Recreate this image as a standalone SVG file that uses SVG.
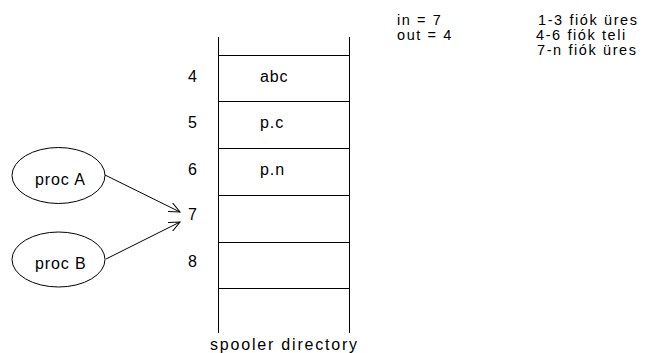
<svg xmlns="http://www.w3.org/2000/svg" width="648" height="353" viewBox="0 0 648 353">
<style>
text{font-family:"Liberation Sans",Arial,sans-serif;font-size:16px;letter-spacing:0.9px;fill:#000}
.note{font-size:14.5px;letter-spacing:1.6px}
.ln{stroke:#000;stroke-width:1;fill:none}
.n{fill:#fff;stroke:#000;stroke-width:1}
</style>
<defs>
<marker id="ah" viewBox="0 0 12 10" refX="11" refY="5" markerWidth="12" markerHeight="10" markerUnits="userSpaceOnUse" orient="auto">
<path d="M0,0 L11,5 L0,10" fill="none" stroke="#000" stroke-width="1"/>
</marker>
</defs>
<rect width="648" height="353" fill="#fff"/>
<g id="directory">
<line class="ln" x1="218.5" y1="37" x2="218.5" y2="333"/>
<line class="ln" x1="349.5" y1="37" x2="349.5" y2="333"/>
<line class="ln" x1="218" y1="55.5" x2="350" y2="55.5"/>
<line class="ln" x1="218" y1="101.5" x2="350" y2="101.5"/>
<line class="ln" x1="218" y1="148.5" x2="350" y2="148.5"/>
<line class="ln" x1="218" y1="195.5" x2="350" y2="195.5"/>
<line class="ln" x1="218" y1="242.5" x2="350" y2="242.5"/>
<line class="ln" x1="218" y1="288.5" x2="350" y2="288.5"/>
<text x="188" y="82">4</text>
<text x="188" y="128">5</text>
<text x="188" y="175">6</text>
<text x="188" y="220">7</text>
<text x="188" y="267">8</text>
<text x="260" y="82">abc</text>
<text x="260" y="128">p.c</text>
<text x="260" y="175">p.n</text>
<text x="210" y="350" textLength="148" lengthAdjust="spacing">spooler directory</text>
</g>
<g id="procA">
<ellipse class="n" cx="58.5" cy="175.5" rx="46.5" ry="28"/>
<text x="35" y="185">proc A</text>
</g>
<g id="procB">
<ellipse class="n" cx="58.5" cy="259.5" rx="46.5" ry="27.5"/>
<text x="35" y="269">proc B</text>
</g>
<g id="connectors">
<line class="ln" x1="105" y1="175" x2="180" y2="212" marker-end="url(#ah)"/>
<line class="ln" x1="106" y1="259" x2="180" y2="222" marker-end="url(#ah)"/>
</g>
<g id="notes">
<text class="note" x="397" y="25">in = 7</text>
<text class="note" x="397" y="40">out = 4</text>
<text class="note" x="538" y="25">1-3 fiók üres</text>
<text class="note" x="536" y="40">4-6 fiók teli</text>
<text class="note" x="537" y="55">7-n fiók üres</text>
</g>
</svg>
